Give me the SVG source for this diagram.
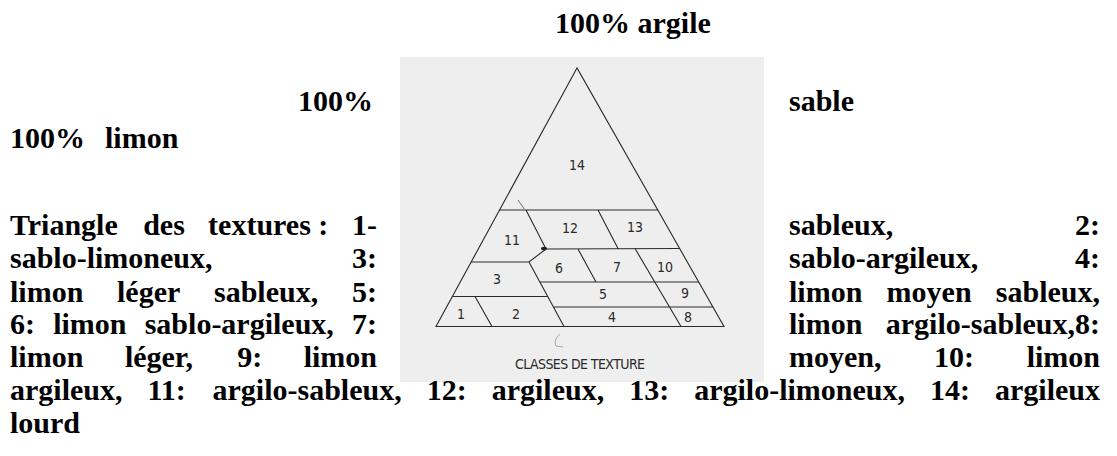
<svg xmlns="http://www.w3.org/2000/svg" width="1117" height="456" viewBox="0 0 1117 456">
<style>
.t{font-family:"Liberation Serif","Times New Roman",serif;font-weight:bold;font-size:30px;fill:#000}
.ln{stroke:#2a2a2a;stroke-width:1.1;fill:none;stroke-linecap:round}
.lb{font-family:"DejaVu Sans Condensed","DejaVu Sans",sans-serif;font-stretch:condensed;font-size:14px;fill:#2a2a2a;text-anchor:middle}
</style>
<rect width="1117" height="456" fill="#fff"/>
<g id="header">
<text class="t" x="555" y="33">100% argile</text>
<text class="t" x="298" y="111">100%</text>
<text class="t" x="789" y="111">sable</text>
<text class="t" y="148"><tspan x="10">100%</tspan><tspan x="105">limon</tspan></text>
</g>
<g id="figure">
<rect x="400" y="57" width="364" height="325" fill="#eeeeee"/>
<g id="triangle">
<path class="ln" d="M577 68 L436 326.5 L724 326.5 Z"/>
<path class="ln" d="M499.5 210 H657.8 M526 210 L546 249 L679.6 248.5 M546 249 L529 262 H471.2 M529 262 L564 326.5 M540 282 H698.7 M452.4 296.5 H547.7 M553.4 307 H712.9 M598 210 L618 248.5 M578 249 L596 282 M635 248.5 L681 326.5 M475 296.5 L492 326.5"/>
<ellipse cx="544" cy="248.5" rx="3" ry="1.8" fill="#222"/>
<path d="M518 200 L525 210" stroke="#888" stroke-width="1.2"/>
<path d="M560 334 Q553 340 556 346 L563 347" stroke="#aaa" stroke-width="1" fill="none"/>
</g>
<g id="labels">
<text class="lb" x="577" y="170">14</text>
<text class="lb" x="570" y="233">12</text>
<text class="lb" x="635" y="232">13</text>
<text class="lb" x="512" y="245">11</text>
<text class="lb" x="559" y="273">6</text>
<text class="lb" x="617" y="272">7</text>
<text class="lb" x="665" y="272">10</text>
<text class="lb" x="497" y="284">3</text>
<text class="lb" x="603" y="299">5</text>
<text class="lb" x="685" y="298">9</text>
<text class="lb" x="461" y="319">1</text>
<text class="lb" x="516" y="319">2</text>
<text class="lb" x="612" y="322">4</text>
<text class="lb" x="688" y="322">8</text>
<text class="lb" x="580" y="369" font-size="12" textLength="130" lengthAdjust="spacing">CLASSES DE TEXTURE</text>
</g>
</g>
<g id="caption">
<text class="t" y="235"><tspan x="10">Triangle</tspan><tspan x="143.2">des</tspan><tspan x="208.1">textures :</tspan><tspan x="352">1-</tspan></text>
<text class="t" y="235"><tspan x="789">sableux,</tspan><tspan x="1075">2:</tspan></text>
<text class="t" y="268"><tspan x="10">sablo-limoneux,</tspan><tspan x="352">3:</tspan></text>
<text class="t" y="268"><tspan x="789">sablo-argileux,</tspan><tspan x="1075">4:</tspan></text>
<text class="t" y="302"><tspan x="10">limon</tspan><tspan x="117">léger</tspan><tspan x="214">sableux,</tspan><tspan x="352">5:</tspan></text>
<text class="t" y="302"><tspan x="789">limon</tspan><tspan x="886.6">moyen</tspan><tspan x="995.8">sableux,</tspan></text>
<text class="t" y="334"><tspan x="10">6:</tspan><tspan x="53.2">limon</tspan><tspan x="144.7">sablo-argileux,</tspan><tspan x="352">7:</tspan></text>
<text class="t" y="334"><tspan x="789">limon</tspan><tspan x="885.8">argilo-sableux,8:</tspan></text>
<text class="t" y="367"><tspan x="10">limon</tspan><tspan x="124.9">léger,</tspan><tspan x="237.2">9:</tspan><tspan x="303.7">limon</tspan></text>
<text class="t" y="367"><tspan x="789">moyen,</tspan><tspan x="934.1">10:</tspan><tspan x="1026.7">limon</tspan></text>
<text class="t" y="400"><tspan x="10">argileux,</tspan><tspan x="147.5">11:</tspan><tspan x="212.5">argilo-sableux,</tspan><tspan x="426.7">12:</tspan><tspan x="491.7">argileux,</tspan><tspan x="629.2">13:</tspan><tspan x="694.2">argilo-limoneux,</tspan><tspan x="930">14:</tspan><tspan x="995">argileux</tspan></text>
<text class="t" x="10" y="433">lourd</text>
</g>
</svg>
